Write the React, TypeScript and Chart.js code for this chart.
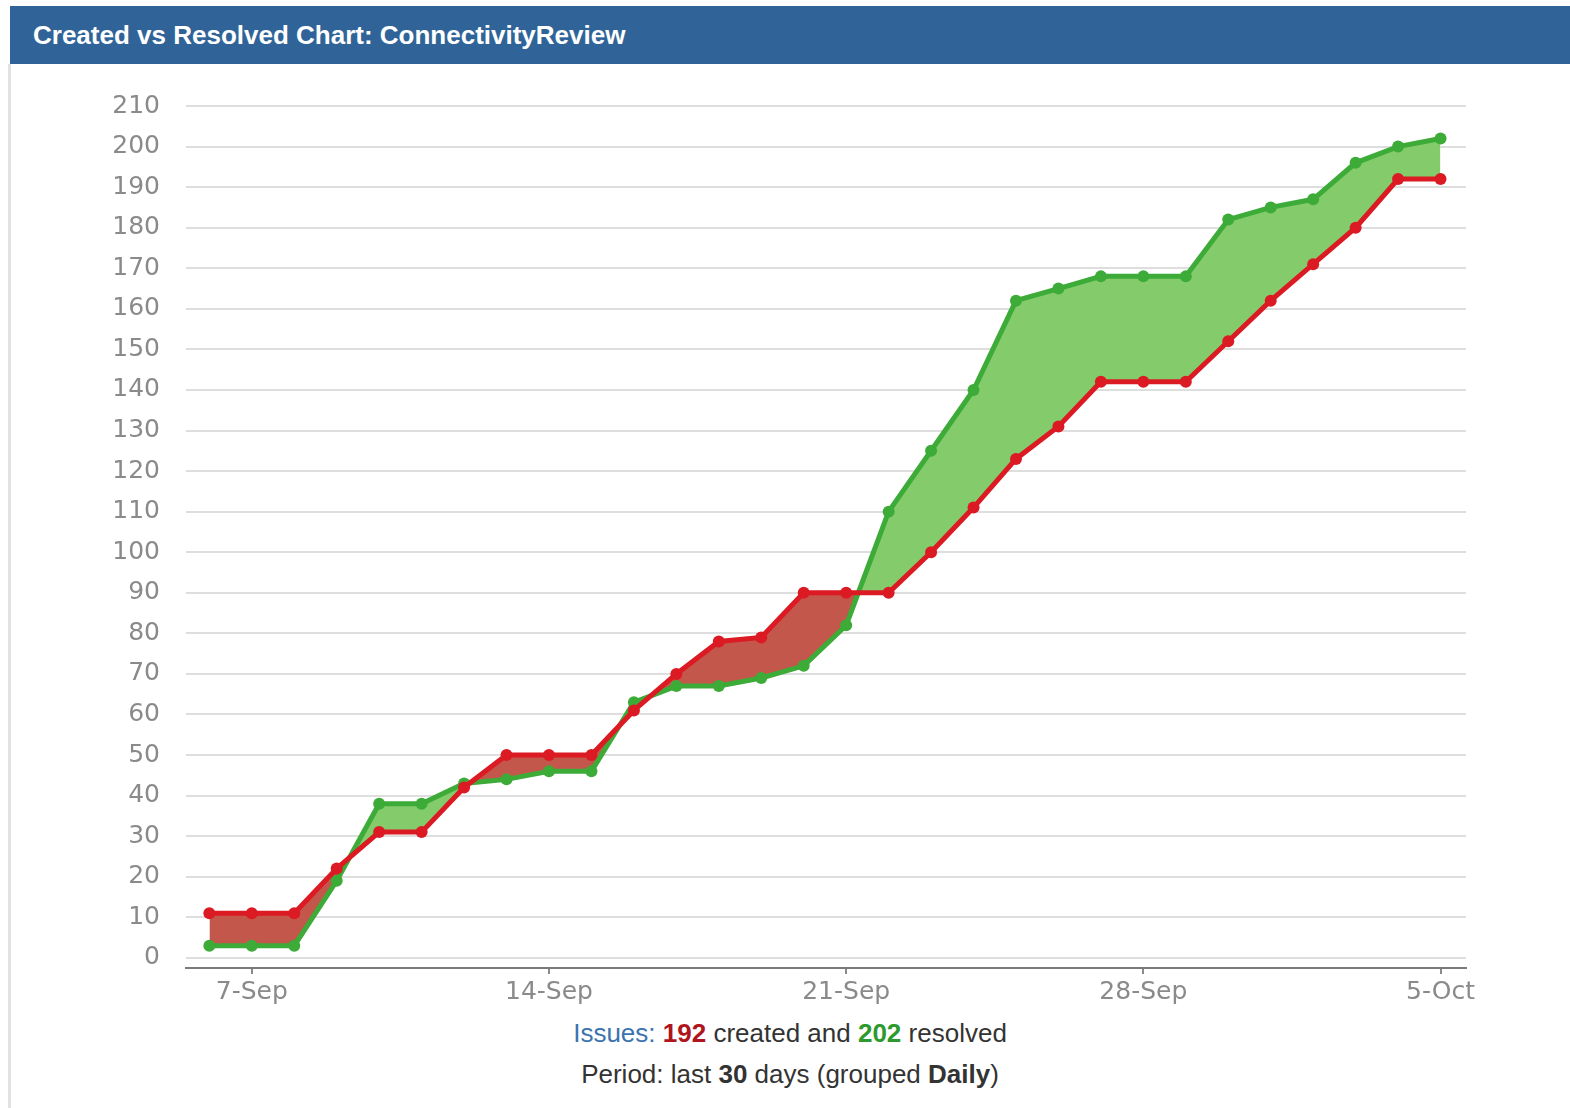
import React, { useEffect, useRef } from "react";
import { Chart, registerables } from "chart.js";

Chart.register(...registerables);

const DATES = [
  "6-Sep", "7-Sep", "8-Sep", "9-Sep", "10-Sep", "11-Sep", "12-Sep", "13-Sep", "14-Sep", "15-Sep",
  "16-Sep", "17-Sep", "18-Sep", "19-Sep", "20-Sep", "21-Sep", "22-Sep", "23-Sep", "24-Sep", "25-Sep",
  "26-Sep", "27-Sep", "28-Sep", "29-Sep", "30-Sep", "1-Oct", "2-Oct", "3-Oct", "4-Oct", "5-Oct",
];

const CREATED = [
  11, 11, 11, 22, 31, 31, 42, 50, 50, 50,
  61, 70, 78, 79, 90, 90, 90, 100, 111, 123,
  131, 142, 142, 142, 152, 162, 171, 180, 192, 192,
];

const RESOLVED = [
  3, 3, 3, 19, 38, 38, 43, 44, 46, 46,
  63, 67, 67, 69, 72, 82, 110, 125, 140, 162,
  165, 168, 168, 168, 182, 185, 187, 196, 200, 202,
];

const X_TICK_LABELS = ["7-Sep", "14-Sep", "21-Sep", "28-Sep", "5-Oct"];
const Y_TICKS = [0, 10, 20, 30, 40, 50, 60, 70, 80, 90, 100, 110, 120, 130, 140, 150, 160, 170, 180, 190, 200, 210];

const TOTAL_CREATED = 192;
const TOTAL_RESOLVED = 202;
const PERIOD_DAYS = 30;

const RED = "#dc1a23";
const GREEN = "#3dab38";
const RED_FILL = "#c4574b";
const GREEN_FILL = "#84cc6b";

function ChartCanvas() {
  const ref = useRef<HTMLCanvasElement | null>(null);
  useEffect(() => {
    if (!ref.current) return;
    const chart = new Chart(ref.current, {
      type: "line",
      data: {
        datasets: [
          {
            label: "Created",
            data: CREATED.map((v, i) => ({ x: i, y: v })),
            borderColor: RED,
            backgroundColor: RED,
            borderWidth: 5,
            pointRadius: 6,
            pointBorderWidth: 0,
            pointBackgroundColor: RED,
            tension: 0,
            fill: false,
          },
          {
            label: "Resolved",
            data: RESOLVED.map((v, i) => ({ x: i, y: v })),
            borderColor: GREEN,
            backgroundColor: GREEN_FILL,
            borderWidth: 5,
            pointRadius: 6,
            pointBorderWidth: 0,
            pointBackgroundColor: GREEN,
            tension: 0,
            fill: { target: 0, above: GREEN_FILL, below: RED_FILL },
          },
        ],
      },
      options: {
        responsive: false,
        animation: false,
        layout: { padding: { top: 42, right: 104, left: 0, bottom: 0 } },
        plugins: { legend: { display: false }, tooltip: { enabled: false } },
        scales: {
          x: {
            type: "linear",
            min: -0.55,
            max: 29.6,
            afterBuildTicks: (scale: any) => {
              scale.ticks = X_TICK_LABELS.map((l) => ({ value: DATES.indexOf(l) }));
            },
            afterFit: (scale: any) => {
              scale.height = 46;
            },
            ticks: {
              autoSkip: false,
              maxRotation: 0,
              padding: 3,
              color: "#8a8a8a",
              font: { family: "DejaVu Sans", size: 25 },
              callback: (value: any) => DATES[Math.round(Number(value))] ?? "",
            },
            grid: {
              drawOnChartArea: false,
              drawTicks: true,
              tickLength: 6,
              color: "#8a8a8a",
              lineWidth: 2,
            },
            border: { display: true, color: "#7a7a7a", width: 2 },
          },
          y: {
            type: "linear",
            min: -2.5,
            max: 210,
            afterBuildTicks: (scale: any) => {
              scale.ticks = Y_TICKS.map((v) => ({ value: v }));
            },
            afterFit: (scale: any) => {
              scale.width = 176;
            },
            ticks: {
              padding: 26,
              color: "#8a8a8a",
              font: { family: "DejaVu Sans", size: 25 },
            },
            grid: {
              drawTicks: false,
              color: "#dedede",
              lineWidth: 2,
            },
            border: { display: false },
          },
        },
      },
    });
    return () => chart.destroy();
  }, []);
  return (
    <canvas
      ref={ref}
      width={1560}
      height={950}
      style={{ position: "absolute", left: 10, top: 64, width: 1560, height: 950 }}
    />
  );
}

export default function App() {
  return (
    <div
      style={{
        position: "absolute",
        left: 0,
        top: 0,
        width: 1570,
        height: 1108,
        background: "#ffffff",
        overflow: "hidden",
        fontFamily: "'Liberation Sans', Arial, sans-serif",
      }}
    >
      <div
        style={{
          position: "absolute",
          left: 10,
          top: 6,
          width: 1560,
          height: 58,
          background: "#306498",
          color: "#ffffff",
          fontWeight: "bold",
          fontSize: 26,
          lineHeight: "58px",
          paddingLeft: 23,
          boxSizing: "border-box",
          whiteSpace: "nowrap",
        }}
      >
        Created vs Resolved Chart: ConnectivityReview
      </div>
      <div
        style={{
          position: "absolute",
          left: 8,
          top: 64,
          width: 3,
          height: 1044,
          background: "#e2e2e2",
        }}
      />
      <ChartCanvas />
      <div
        style={{
          position: "absolute",
          left: 10,
          width: 1560,
          top: 1018,
          textAlign: "center",
          fontSize: 26,
          lineHeight: "30px",
          color: "#333333",
          whiteSpace: "nowrap",
        }}
      >
        <span style={{ color: "#3b73af" }}>Issues:</span>{" "}
        <b style={{ color: "#b0141c" }}>{TOTAL_CREATED}</b> created and{" "}
        <b style={{ color: "#2c9a2c" }}>{TOTAL_RESOLVED}</b> resolved
      </div>
      <div
        style={{
          position: "absolute",
          left: 10,
          width: 1560,
          top: 1059,
          textAlign: "center",
          fontSize: 26,
          lineHeight: "30px",
          color: "#333333",
          whiteSpace: "nowrap",
        }}
      >
        Period: last <b>{PERIOD_DAYS}</b> days (grouped <b>Daily</b>)
      </div>
    </div>
  );
}
